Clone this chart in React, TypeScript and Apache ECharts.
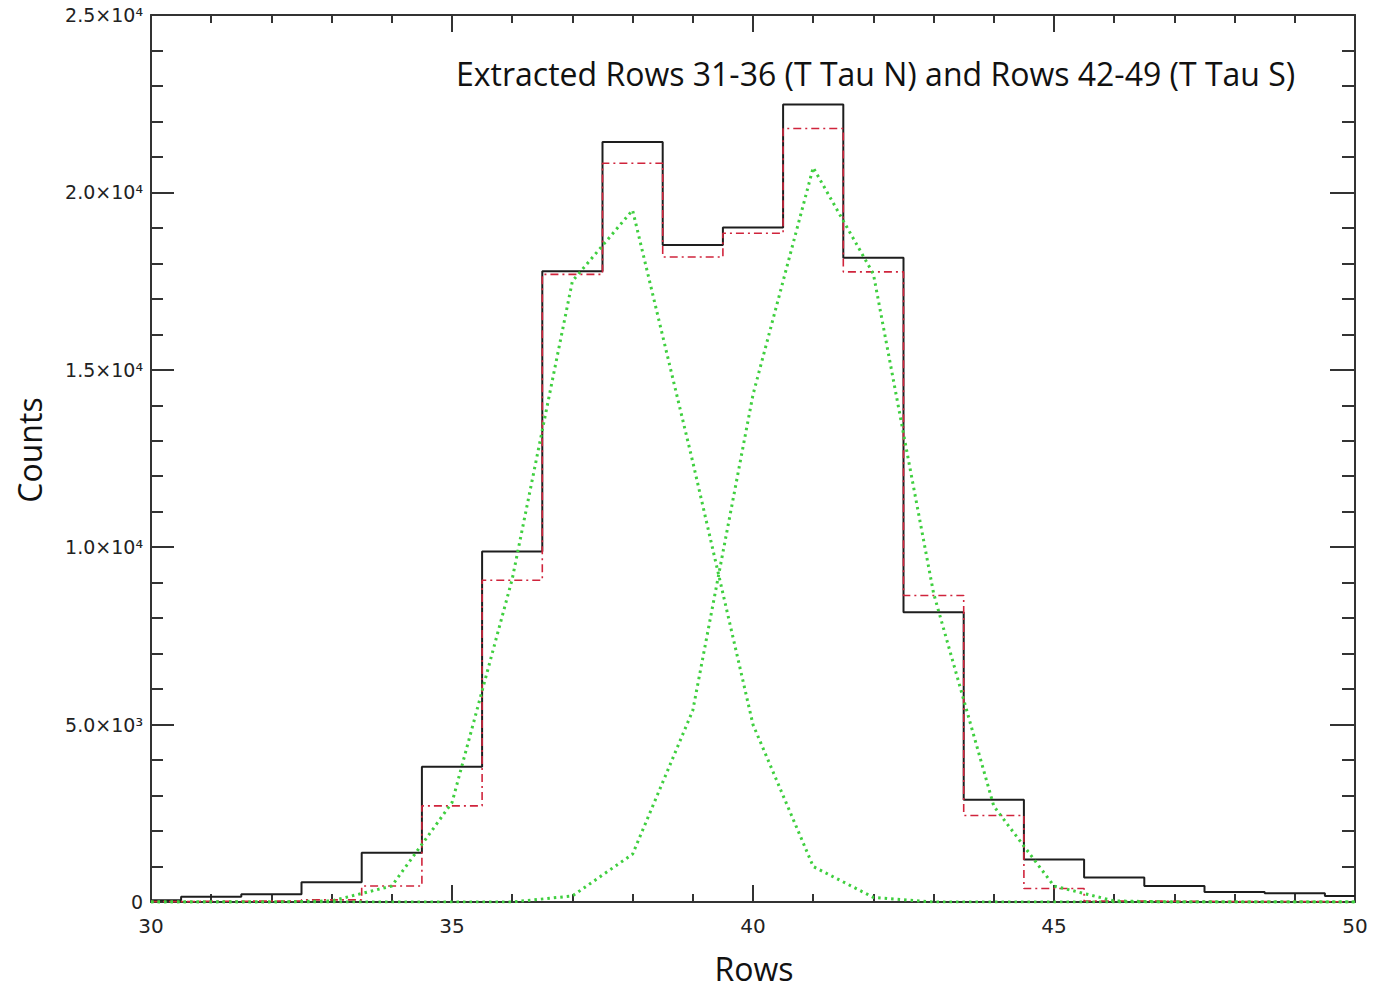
import React, { useEffect, useRef } from "react";
import * as echarts from "echarts";

const rows = [30, 31, 32, 33, 34, 35, 36, 37, 38, 39, 40, 41, 42, 43, 44, 45, 46, 47, 48, 49, 50];
const totalCounts = [50, 150, 215, 560, 1390, 3815, 9880, 17780, 21420, 18520, 19010, 22480, 18160, 8170, 2880, 1200, 690, 450, 280, 245, 170];
const extractedCounts = [10, 20, 30, 60, 450, 2710, 9070, 17690, 20820, 18180, 18850, 21800, 17760, 8640, 2440, 380, 30, 20, 10, 10, 5];
const fitNorth = [0, 0, 0, 30, 450, 2800, 9100, 17500, 19500, 12400, 5000, 1000, 130, 0, 0, 0, 0, 0, 0, 0, 0];
const fitSouth = [0, 0, 0, 0, 0, 0, 0, 170, 1350, 5400, 14300, 20700, 17700, 8700, 2700, 450, 30, 0, 0, 0, 0];

const yTickValues = [0, 5000, 10000, 15000, 20000, 25000];
const yTickLabels = ["0", "5.0×10³", "1.0×10⁴", "1.5×10⁴", "2.0×10⁴", "2.5×10⁴"];
const xTickValues = [30, 35, 40, 45, 50];
const xTickLabels = ["30", "35", "40", "45", "50"];

const titleText = "Extracted Rows 31-36 (T Tau N) and Rows 42-49 (T Tau S)";
const xName = "Rows";
const yName = "Counts";

const AXIS_COLOR = "#333";

function pairs(vals: number[]) {
  return rows.map((r, i) => [r, vals[i]]);
}

export default function App() {
  const ref = useRef<HTMLDivElement>(null);
  useEffect(() => {
    if (!ref.current) return;
    const chart = echarts.init(ref.current, undefined, { renderer: "svg" });
    const xBase = {
      type: "value" as const,
      min: 30,
      max: 50,
      interval: 5,
      splitLine: { show: false },
      axisLine: { show: true, onZero: false, lineStyle: { color: AXIS_COLOR, width: 2 } },
      axisTick: { show: true, inside: true, length: 17, lineStyle: { color: AXIS_COLOR, width: 2 } },
      minorTick: { show: true, splitNumber: 5, length: 8, lineStyle: { color: AXIS_COLOR, width: 2 } },
    };
    const yBase = {
      type: "value" as const,
      min: 0,
      max: 25000,
      interval: 5000,
      splitLine: { show: false },
      axisLine: { show: true, onZero: false, lineStyle: { color: AXIS_COLOR, width: 2 } },
      axisTick: { show: true, inside: true, length: 23, lineStyle: { color: AXIS_COLOR, width: 2 } },
      minorTick: { show: true, splitNumber: 5, length: 12, lineStyle: { color: AXIS_COLOR, width: 2 } },
    };
    chart.setOption({
      animation: false,
      backgroundColor: "#fff",
      grid: { left: 151, right: 21, top: 15, bottom: 88, containLabel: false },
      xAxis: [
        {
          ...xBase,
          position: "bottom",
          axisLabel: {
            show: true,
            margin: 14,
            fontFamily: "DejaVu Sans",
            fontSize: 20,
            color: "#222",
            formatter: (v: number) => {
              const idx = xTickValues.indexOf(v);
              return idx >= 0 ? xTickLabels[idx] : "";
            },
          },
        },
        { ...xBase, position: "top", axisLabel: { show: false } },
      ],
      yAxis: [
        {
          ...yBase,
          position: "left",
          axisLabel: {
            show: true,
            margin: 8,
            fontFamily: "DejaVu Sans",
            fontSize: 19,
            color: "#222",
            formatter: (v: number) => {
              const idx = yTickValues.indexOf(v);
              return idx >= 0 ? yTickLabels[idx] : "";
            },
          },
        },
        {
          ...yBase,
          position: "right",
          axisTick: { ...yBase.axisTick, length: 25 },
          minorTick: { ...yBase.minorTick, length: 13 },
          axisLabel: { show: false },
        },
      ],
      series: [
        {
          type: "line",
          step: "middle",
          data: pairs(totalCounts),
          symbol: "none",
          lineStyle: { color: "#1e1e1e", width: 2 },
          z: 2,
        },
        {
          type: "line",
          step: "middle",
          data: pairs(extractedCounts),
          symbol: "none",
          lineStyle: { color: "#d0243c", width: 1.6, type: [8, 4, 2, 4] },
          z: 3,
        },
        {
          type: "line",
          data: pairs(fitNorth),
          symbol: "none",
          lineStyle: { color: "#3fcf3f", width: 3, type: [2.5, 4] },
          z: 4,
        },
        {
          type: "line",
          data: pairs(fitSouth),
          symbol: "none",
          lineStyle: { color: "#3fcf3f", width: 3, type: [2.5, 4] },
          z: 4,
        },
      ],
      graphic: [
        {
          type: "text",
          left: 456,
          top: 57,
          style: {
            text: titleText,
            fontFamily: "Open Sans",
            fontSize: 32,
            fill: "#111",
          },
        },
        {
          type: "text",
          x: 754,
          y: 968,
          style: {
            text: xName,
            fontFamily: "Open Sans",
            fontSize: 32,
            fill: "#111",
            align: "center",
            verticalAlign: "middle",
          },
        },
        {
          type: "text",
          x: 29,
          y: 450,
          rotation: Math.PI / 2,
          style: {
            text: yName,
            fontFamily: "Open Sans",
            fontSize: 32,
            fill: "#111",
            align: "center",
            verticalAlign: "middle",
          },
        },
      ],
    });
    return () => chart.dispose();
  }, []);
  return (
    <div
      ref={ref}
      style={{ position: "fixed", left: 0, top: 0, width: 1376, height: 990 }}
    />
  );
}
